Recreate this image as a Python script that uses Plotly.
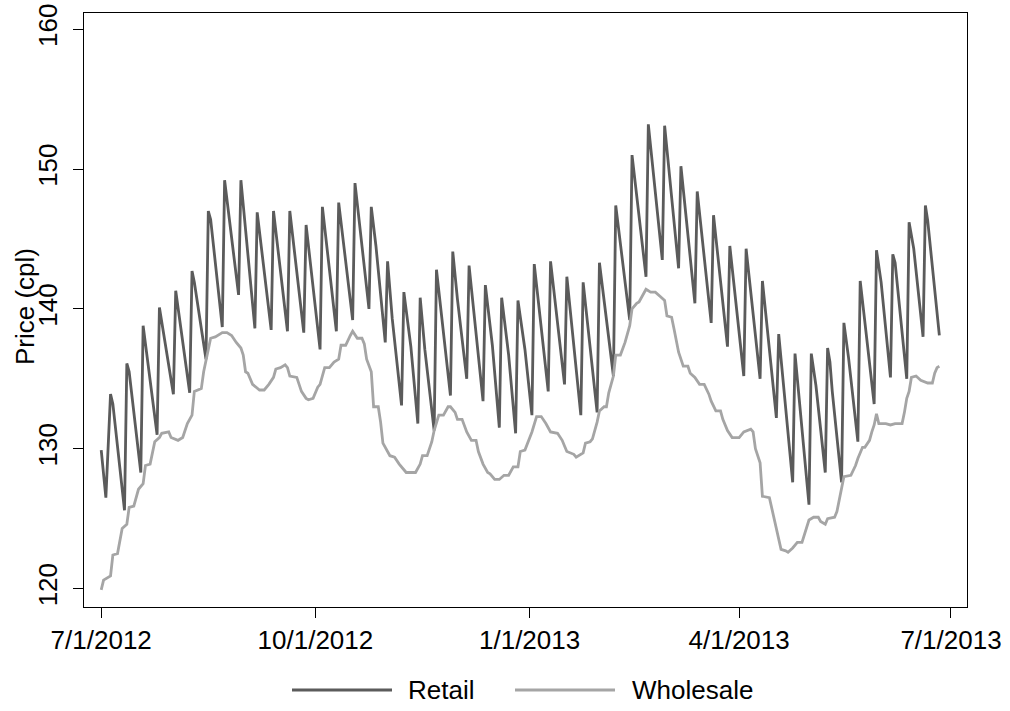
import pandas as pd
import plotly.graph_objects as go

# ---------------- data ----------------
# days counted from 1 July 2012
retail_day = [0, 2, 4, 5, 10, 11, 12, 13, 17, 18, 24, 25, 31, 32, 38, 39, 40, 45, 46, 47,
              52, 53, 59, 60, 66, 67, 68, 73, 74, 80, 81, 87, 88, 94, 95, 101, 102, 108, 109,
              115, 116, 118, 122, 123, 125, 127, 129, 130, 133, 136, 137, 139, 143, 144, 147,
              150, 151, 153, 157, 158, 164, 165, 168, 171, 172, 175, 178, 179, 182, 185, 186,
              192, 193, 199, 200, 206, 207, 213, 214, 220, 221, 227, 228, 234, 235, 241, 242,
              248, 249, 253, 255, 256, 262, 263, 269, 270, 276, 277, 283, 284, 290, 291, 297,
              298, 304, 305, 307, 311, 312, 313, 314, 318, 319, 321, 325, 326, 332, 333, 335,
              339, 340, 341, 346, 347, 349, 353, 354, 355, 360]
retail_price = [129.9, 126.5, 133.9, 133.2, 125.6, 136.1, 135.5, 134.0, 128.3, 138.8, 131.0, 140.1,
                133.9, 141.3, 134.0, 142.7, 141.9, 136.4, 147.0, 146.4,
                138.7, 149.2, 141.0, 149.2, 138.6, 146.9, 145.5, 138.5, 147.0, 138.4, 147.0, 138.3,
                146.0, 137.1, 147.3, 138.4, 147.6, 139.2, 149.0,
                140.0, 147.3, 144.5, 137.6, 143.4, 139.3, 136.4, 133.1, 141.2, 137.3, 131.8, 140.8,
                137.1, 131.3, 142.8, 138.3,
                133.8, 144.1, 140.7, 135.0, 143.1, 133.4, 141.7, 137.4, 131.5, 140.8, 136.7, 131.1,
                140.6, 137.1, 132.4, 143.2,
                134.1, 143.4, 134.6, 142.3, 132.4, 141.9, 132.6, 143.3, 135.2, 147.4, 139.2, 151.0,
                142.3, 153.2, 143.5, 153.1,
                142.9, 150.2, 143.6, 140.4, 148.4, 139.0, 146.7, 137.3, 144.5, 135.2, 144.3, 135.0,
                142.0, 132.2, 138.2, 127.6,
                136.8, 126.0, 136.8, 134.5, 128.3, 137.2, 136.2, 134.1, 127.6, 139.0, 136.5, 130.5,
                142.0, 133.2, 144.2, 141.9,
                135.1, 143.9, 143.3, 135.0, 146.2, 144.3, 138.0, 147.4, 146.3, 138.1]

wholesale_day = [0, 1, 4, 5, 7, 9, 11, 12, 14, 16, 18, 19, 21, 23, 25, 26, 29, 30, 33, 35, 37, 39,
                 40, 43, 44, 45, 47, 49, 52, 54, 56, 58, 60, 61, 62, 63, 65, 68, 70, 72, 74, 75,
                 77, 79, 80, 81, 84, 86, 88, 89, 91, 93, 94, 96, 98, 100, 102, 103, 105, 107, 108,
                 110, 112, 113, 114, 116, 117, 119, 120, 121, 123, 124, 126, 128, 131, 135, 137,
                 138, 140, 142, 143, 145, 147, 149, 150, 152, 153, 155, 157, 159, 161, 162, 164,
                 166, 167, 169, 171, 173, 175, 177, 179, 180, 182, 184, 185, 187, 189, 191, 193,
                 196, 198, 199, 200, 203, 204, 207, 208, 210, 211, 213, 214, 216, 217, 218, 220,
                 221, 223, 225, 227, 228, 230, 231, 233, 234, 236, 238, 240, 242, 243, 245, 246,
                 247, 248, 250, 252, 253, 255, 257, 259, 261, 262, 264, 266, 267, 269, 271, 274,
                 276, 279, 280, 281, 283, 284, 287, 288, 290, 291, 292, 294, 295, 297, 299, 301,
                 303, 304, 306, 308, 309, 311, 312, 315, 316, 317, 318, 319, 322, 324, 325, 327,
                 328, 330, 331, 332, 333, 334, 337, 339, 341, 344, 345, 346, 347, 348, 350, 352,
                 355, 357, 358, 359, 360]
wholesale_price = [119.9, 120.6, 120.9, 122.4, 122.5, 124.3, 124.6, 125.8, 125.9, 127.1, 127.5,
                   128.8, 128.9, 130.5, 130.8, 131.1, 131.2, 130.8, 130.6, 130.8, 131.8, 132.4,
                   134.1, 134.3, 135.5, 136.3, 137.9, 138.0, 138.3, 138.3, 138.1, 137.6, 137.2,
                   136.7, 135.5, 135.4, 134.6, 134.2, 134.2, 134.6, 135.1, 135.7,
                   135.8, 136.0, 135.8, 135.2, 135.1, 134.1, 133.6, 133.5, 133.6, 134.4, 134.6,
                   135.8, 135.8, 136.2, 136.4, 137.4, 137.4, 138.1, 138.4,
                   137.9, 137.9, 137.5, 136.4, 135.5, 133.0, 133.0, 131.9, 130.4, 129.8, 129.5,
                   129.4, 128.9, 128.3, 128.3, 128.9,
                   129.5, 129.5, 130.5, 131.3, 132.4, 132.4, 133.0, 133.0, 132.6, 132.1, 132.1,
                   131.2, 130.6, 130.6, 129.8, 128.9,
                   128.3, 128.2, 127.8, 127.8, 128.1, 128.1, 128.7, 128.7, 129.8, 129.9, 130.8,
                   131.2, 132.3, 132.3, 131.8, 131.2,
                   131.1, 130.6, 130.2, 129.8, 129.6, 129.4, 129.7, 130.4, 130.5, 130.7, 131.9,
                   132.7, 133.0, 133.0, 134.0, 135.2,
                   136.7, 136.7, 137.6, 138.8, 140.0, 140.4, 140.5, 141.1, 141.4, 141.2, 141.2,
                   140.9, 140.6, 139.5, 139.4, 138.6,
                   137.6, 136.9, 135.9, 135.9, 135.4, 135.1, 134.6, 134.6, 133.9, 133.4, 132.7,
                   132.7, 132.1, 131.3, 130.8, 130.8,
                   131.2, 131.4, 131.2, 130.0, 129.0, 126.6, 126.5, 125.8, 124.2, 123.7, 122.8,
                   122.7, 122.6, 122.9, 123.3, 123.3,
                   124.4, 124.9, 125.1, 125.1, 124.8, 124.6, 125.0, 125.1, 125.5, 126.3, 127.0,
                   128.0, 128.1, 128.8, 129.3, 130.1,
                   130.1, 130.6, 131.2, 131.7, 132.5, 131.8, 131.8, 131.7, 131.8, 131.8, 132.6,
                   133.6, 134.1, 135.1, 135.2, 134.9,
                   134.7, 134.7, 135.4, 135.8, 135.9]

tick_dates = ["2012-07-01", "2012-10-01", "2013-01-01", "2013-04-01", "2013-07-01"]
tick_labels = ["7/1/2012", "10/1/2012", "1/1/2013", "4/1/2013", "7/1/2013"]
y_ticks = [120, 130, 140, 150, 160]
y_title = "Price (cpl)"
series_names = ["Retail", "Wholesale"]
series_colors = ["#5b5b5b", "#a5a5a5"]

# ---------------- figure ----------------
base = pd.Timestamp("2012-07-01")
retail_x = [base + pd.Timedelta(days=d) for d in retail_day]
wholesale_x = [base + pd.Timedelta(days=d) for d in wholesale_day]

FONT = "Liberation Sans, Arial, sans-serif"
FS = 26
W, H = 1010, 711
ML, MR, MT, MB = 84, 43, 13, 104
LW = 2.8

fig = go.Figure()
fig.add_trace(go.Scatter(x=retail_x, y=retail_price, mode="lines", name=series_names[0],
                         line=dict(color=series_colors[0], width=LW), showlegend=False))
fig.add_trace(go.Scatter(x=wholesale_x, y=wholesale_price, mode="lines", name=series_names[1],
                         line=dict(color=series_colors[1], width=LW), showlegend=False))

plot_w = W - ML - MR
plot_h = H - MT - MB


def px(xs):
    # screen pixel -> paper coordinate
    return (xs - ML) / plot_w


def py(ys):
    return (H - MB - ys) / plot_h


# custom legend (long line samples as in the reference)
legend_items = [(292, 392, 406), (515, 615, 630)]
for (x0, x1, xt), name, col in zip(legend_items, series_names, series_colors):
    fig.add_shape(type="line", xref="paper", yref="paper", x0=px(x0), x1=px(x1),
                  y0=py(690), y1=py(690), line=dict(color=col, width=LW))
    fig.add_annotation(xref="paper", yref="paper", x=px(xt), y=py(690), text=name,
                       showarrow=False, xanchor="left", yanchor="middle",
                       font=dict(family=FONT, size=FS, color="black"))

# y-axis title placed like the reference
fig.add_annotation(xref="paper", yref="paper", x=px(25), y=py(307), text=y_title,
                   textangle=-90, showarrow=False, xanchor="center", yanchor="middle",
                   font=dict(family=FONT, size=FS, color="black"))

fig.update_layout(
    width=W, height=H,
    margin=dict(l=ML, r=MR, t=MT, b=MB),
    paper_bgcolor="white", plot_bgcolor="white",
    font=dict(family=FONT, size=FS, color="black"),
    showlegend=False,
)
fig.update_xaxes(
    range=["2012-06-23 14:30", "2013-07-07 21:00"],
    tickmode="array", tickvals=tick_dates, ticktext=tick_labels,
    showgrid=False, zeroline=False, automargin=False,
    showline=True, mirror=True, linecolor="black", linewidth=1.3,
    ticks="outside", ticklen=10, tickwidth=1.3, tickcolor="black",
    tickfont=dict(family=FONT, size=FS, color="black"),
)
fig.update_yaxes(
    range=[118.68, 161.16],
    tickmode="array", tickvals=y_ticks, ticktext=[str(v) for v in y_ticks],
    tickangle=-90,
    showgrid=False, zeroline=False, automargin=False,
    showline=True, mirror=True, linecolor="black", linewidth=1.3,
    ticks="outside", ticklen=10, tickwidth=1.3, tickcolor="black",
    tickfont=dict(family=FONT, size=FS, color="black"),
    ticklabelstandoff=5, ticklabeloverflow="allow",
)

fig.write_html("out.html", config={"displayModeBar": False},
               post_script="document.body.style.margin='0px';")
